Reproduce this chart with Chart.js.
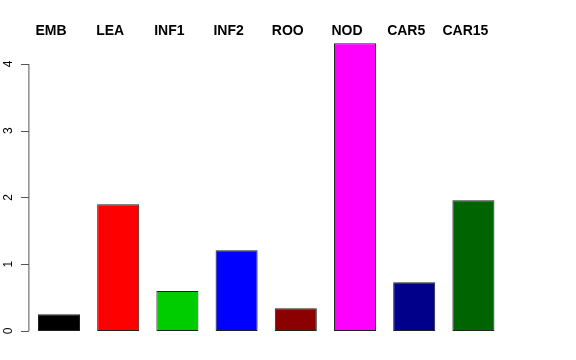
<!DOCTYPE html>
<html>
<head>
<meta charset="utf-8">
<script src="https://cdn.jsdelivr.net/npm/chart.js@4"></script>
<style>
  body { margin: 0; background: #fff; }
  #wrap { width: 576px; height: 360px; }
</style>
</head>
<body>
<div id="wrap"><canvas id="myChart" width="576" height="360"></canvas></div>
<script>
// categories and values
var categories = ['EMB', 'LEA', 'INF1', 'INF2', 'ROO', 'NOD', 'CAR5', 'CAR15'];
var values = [0.25, 1.90, 0.60, 1.21, 0.34, 4.31, 0.73, 1.96];
var barColors = ['#000000', '#FF0000', '#00CD00', '#0000FF', '#8B0000', '#FF00FF', '#00008B', '#006400'];
var yTicks = [0, 1, 2, 3, 4];

// R-style axis + labels drawn on top of the bars
var rStyle = {
    id: 'rStyle',
    afterDraw: function (chart) {
        var c = chart.ctx;
        var y = chart.scales.y;
        var x = chart.scales.x;
        var ax = chart.chartArea.left - 0.5;
        c.save();
        c.strokeStyle = '#555';
        c.lineWidth = 1;
        c.beginPath();
        c.moveTo(ax, y.getPixelForValue(yTicks[0]));
        c.lineTo(ax, y.getPixelForValue(yTicks[yTicks.length - 1]));
        yTicks.forEach(function (t) {
            var py = Math.round(y.getPixelForValue(t)) + 0.5;
            c.moveTo(ax, py);
            c.lineTo(ax - 8, py);
        });
        c.stroke();

        c.fillStyle = '#000';
        c.font = '12px "Liberation Sans", Arial, sans-serif';
        c.textAlign = 'center';
        c.textBaseline = 'middle';
        yTicks.forEach(function (t) {
            c.save();
            c.translate(9, y.getPixelForValue(t));
            c.rotate(-Math.PI / 2);
            c.fillText(String(t), 0, 0);
            c.restore();
        });

        c.font = 'bold 14px "Liberation Sans", Arial, sans-serif';
        c.textBaseline = 'alphabetic';
        categories.forEach(function (lab, i) {
            c.fillText(lab, x.getPixelForValue(i) - 8, 35);
        });
        c.restore();
    }
};

var ctx = document.getElementById('myChart').getContext('2d');
var chart = new Chart(ctx, {
    type: 'bar',
    data: {
        labels: categories,
        datasets: [{
            data: values,
            backgroundColor: barColors,
            borderColor: '#222',
            borderWidth: 1,
            borderSkipped: false,
            categoryPercentage: 1,
            barPercentage: 0.71
        }]
    },
    options: {
        responsive: false,
        animation: false,
        layout: { padding: { left: 29.4, right: 73, top: 30.6, bottom: 29 } },
        plugins: { legend: { display: false }, tooltip: { enabled: false } },
        scales: {
            x: { display: false },
            y: { display: false, min: 0, max: 4.5 }
        }
    },
    plugins: [rStyle]
});
</script>
</body>
</html>
